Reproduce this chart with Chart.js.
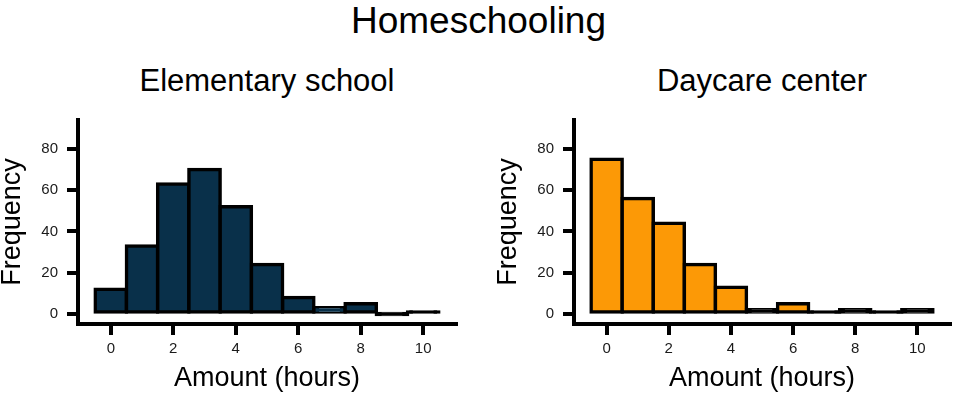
<!DOCTYPE html>
<html>
<head>
<meta charset="utf-8">
<title>Homeschooling</title>
<script src="https://cdn.jsdelivr.net/npm/chart.js@4.4.1/dist/chart.umd.min.js"></script>
<style>
  body { margin: 0; background: #fff; font-family: "Liberation Sans", Arial, sans-serif; }
  #page { position: relative; width: 957px; height: 398px; overflow: hidden; }
  .txt { position: absolute; text-align: center; line-height: 1; color: #000; white-space: nowrap; }
  canvas { position: absolute; top: 0; }
</style>
</head>
<body>
<div id="page">
  <div class="txt" style="left:0; width:957px; top:2px; font-size:37px;">Homeschooling</div>
  <div class="txt" style="left:78px; width:378px; top:65px; font-size:31px;">Elementary school</div>
  <div class="txt" style="left:574px; width:376px; top:65px; font-size:31px;">Daycare center</div>
  <canvas id="chart-left" width="478" height="398" style="left:0;"></canvas>
  <canvas id="chart-right" width="461" height="398" style="left:496px;"></canvas>
</div>
<script>
// histogram bins (hours), one bar per bin
var binCenters = [0, 1, 2, 3, 4, 5, 6, 7, 8, 9, 10];
var elementaryCounts = [12, 33, 63, 70, 52, 24, 8, 3, 5, 0, 1];
var daycareCounts = [75, 56, 44, 24, 13, 2, 5, 1, 2, 1, 2];
var xTickValues = [0, 2, 4, 6, 8, 10];
var yTickValues = [0, 20, 40, 60, 80];

var fontFamily = '"Liberation Sans", Arial, sans-serif';

function makeHistogram(canvasId, counts, fillColor, padRight) {
    "use strict";
    var points = [];
    for (var i = 0; i < binCenters.length; i++) {
        points.push({ x: binCenters[i], y: counts[i] });
    }
    // very short bars are all outline in the original, so fill them black
    var fills = counts.map(function (v) { return v < 3 ? "#000" : fillColor; });

    var axisGrid = { drawOnChartArea: false, drawTicks: true, tickLength: 11, lineWidth: 4, color: "#000", offset: false };
    var axisBorder = { display: true, width: 4, color: "#000" };

    return new Chart(document.getElementById(canvasId), {
        type: "bar",
        data: {
            datasets: [{
                data: points,
                backgroundColor: fills,
                borderColor: "#000",
                borderWidth: 3.5,
                borderSkipped: false,
                inflateAmount: 1.75,
                minBarLength: 1,
                barPercentage: 1,
                categoryPercentage: 1
            }]
        },
        options: {
            responsive: false,
            animation: false,
            layout: { padding: { left: 0, right: padRight, top: 120, bottom: 0 } },
            plugins: { legend: { display: false }, tooltip: { enabled: false } },
            scales: {
                x: {
                    type: "linear",
                    offset: false,
                    min: -1.05,
                    max: 11.05,
                    afterBuildTicks: function (s) { s.ticks = xTickValues.map(function (v) { return { value: v }; }); },
                    afterFit: function (s) { s.height = 74; },
                    grid: axisGrid,
                    border: axisBorder,
                    ticks: { color: "#1a1a1a", font: { size: 15, family: fontFamily }, padding: 5, maxRotation: 0, autoSkip: false },
                    title: { display: true, text: "Amount (hours)", color: "#000", font: { size: 27, family: fontFamily }, padding: { top: 4, bottom: 3 } }
                },
                y: {
                    min: -4.85,
                    max: 94.06,
                    afterBuildTicks: function (s) { s.ticks = yTickValues.map(function (v) { return { value: v }; }); },
                    afterFit: function (s) { s.width = 78; },
                    grid: axisGrid,
                    border: axisBorder,
                    ticks: { color: "#1a1a1a", font: { size: 15, family: fontFamily }, padding: 9 },
                    title: { display: true, text: "Frequency", color: "#000", font: { size: 27, family: fontFamily }, padding: { top: -4, bottom: 0 } }
                }
            }
        }
    });
}

makeHistogram("chart-left", elementaryCounts, "#09304a", 22);
makeHistogram("chart-right", daycareCounts, "#fc9906", 7);
</script>
</body>
</html>
